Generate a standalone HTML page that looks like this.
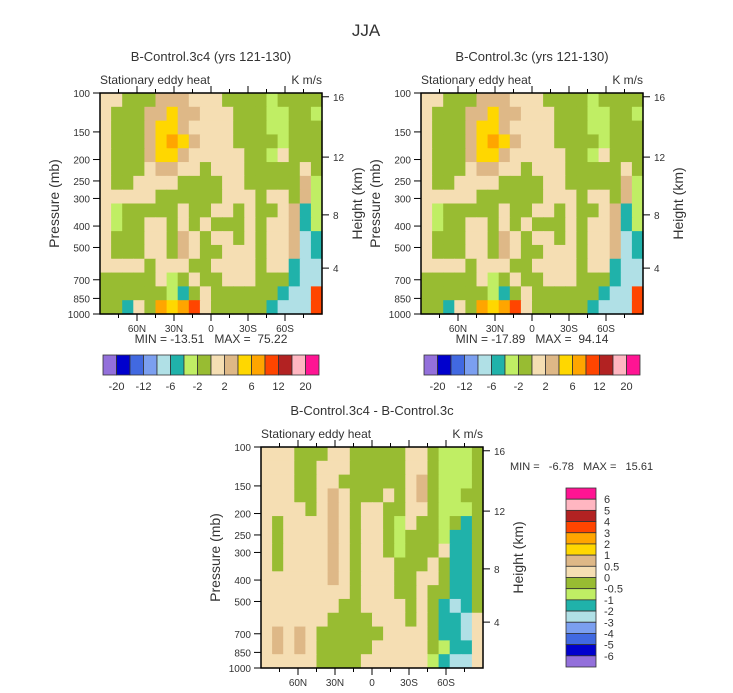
<!DOCTYPE html>
<html><head><meta charset="utf-8"><style>
body{margin:0;background:#fff}
svg{display:block;font-family:"Liberation Sans",sans-serif}
text{white-space:pre}
</style></head><body>
<svg id="svg" width="733" height="693" viewBox="0 0 733 693">
<text x="366" y="36" text-anchor="middle" font-size="17" fill="#333">JJA</text>
</svg>
<script>
const lats=["60N","30N","0","30S","60S"];
const latVals=[60,30,0,-30,-60];
const presTicks=[100,150,200,250,300,400,500,700,850,1000];
const heightTicks=["16","12","8","4"];
const heightPres=[104,195,356,620];
const colorMap={p:"#9370db",n:"#0000cd",u:"#4169e1",k:"#7b9ff0",b:"#b0e0e6",c:"#20b2aa",l:"#c0ee64",g:"#98bc32",w:"#f5deb3",t:"#deb887",y:"#ffd700",o:"#ffa500",r:"#ff4500",f:"#b22222",i:"#ffb6c1",m:"#ff1493"};
const barKeys=["p","n","u","k","b","c","l","g","w","t","y","o","r","f","i","m"];
const topBarLabels=["-20","-12","-6","-2","2","6","12","20"];
const diffBarLabels=["6","5","4","3","2","1","0.5","0","-0.5","-1","-2","-3","-4","-5","-6"];
const field1=[
"wwgggtttwwwgggglgggg",
"wgggttyttwwwgggllggl",
"wgggtyytwwwwgggllggg",
"wgggtyoytwwwgggglggg",
"wgggtyytwwwwwgglwggg",
"wgggwttwwgwwwgggggwg",
"wggwwwwggggwwgggggtl",
"wwwwwggggggwwwgwwgtl",
"wlgggggwggwwgwggwtcl",
"wlggwwgwgwgggwgwwtcl",
"wgggwwgtwgwwgwgwwtbc",
"wgggwwgtwggwwwgwwtbc",
"wwwwgwwwggwwwwgwwcbb",
"gggggwlgwggwwwgggcbb",
"gggggglcgwggggggcbbr",
"ggcwgoyorwgggggcbbbr"];
const field2=field1;
const field3=[
"wwwgggwwgggggwwglllg",
"wwwggwwwgggggwwglllg",
"wwwggwwggggggwtglllg",
"wwwggwtwgggwgwtgllgg",
"wwwwgwtwgwwggwwglllg",
"wgwwwwtwgwwglwgglgcg",
"wgwwwwtwgwwglggglccg",
"wgwwwwtwgwwglgggwccg",
"wgwwwwtwgwwwgggwgccg",
"wwwwwwtwgwwwggwwgccg",
"wwwwwwwwgwwwggwggccg",
"wwwwwwwggwwwwgwgcbcg",
"wwwwwwggggwwwgwgccbw",
"wtwtwggggggwwwwgccbw",
"wtwtwgggggwwwwwglccw",
"wwwwwggggwwwwwwlcbbw"];
const NS="http://www.w3.org/2000/svg";
const svg=document.getElementById('svg');
function mk(tag,attrs,parent){const e=document.createElementNS(NS,tag);for(const k in attrs)e.setAttribute(k,attrs[k]);(parent||svg).appendChild(e);return e;}
function txt(x,y,s,size,anchor,parent){const t=mk('text',{x:x,y:y,'font-size':size,'text-anchor':anchor||'middle',fill:'#333'},parent);t.textContent=s;return t;}
function panel(x0,y0,w,h,field,title,name,stats){
 const g=mk('g',{});
 
 
 const xs=lat=>x0+(90-lat)/180*w;
 const ys=p=>y0+(Math.log10(p)-2)*h;
 const rows=field.length,cols=field[0].length;
 for(let r=0;r<rows;r++)for(let c=0;c<cols;c++){
  const cell=mk('rect',{x:x0+c*w/cols,y:y0+r*h/rows,width:w/cols+0.6,height:h/rows+0.6,fill:colorMap[field[r][c]]},g);
  
  
 }
 const fr=mk('rect',{x:x0,y:y0,width:w,height:h,fill:'none',stroke:'#000','stroke-width':1.5},g);
 
 
 for(let lat=75;lat>=-75;lat-=15){const X=xs(lat);const big=lat%30===0;
  mk('line',{x1:X,y1:y0+h,x2:X,y2:y0+h+(big?7:4),stroke:'#000'},g);
  mk('line',{x1:X,y1:y0,x2:X,y2:y0-(big?7:4),stroke:'#000'},g);}
 latVals.forEach((v,i)=>{const t=txt(xs(v),y0+h+18,lats[i],10,'middle',g);
  
  });
 presTicks.forEach(p=>{mk('line',{x1:x0,y1:ys(p),x2:x0-7,y2:ys(p),stroke:'#000'},g);
  const t=txt(x0-10,ys(p)+4,String(p),10,'end',g);
  
  });
 heightPres.forEach((p,i)=>{mk('line',{x1:x0+w,y1:ys(p),x2:x0+w+7,y2:ys(p),stroke:'#000'},g);
  const t=txt(x0+w+11,ys(p)+4,heightTicks[i],10,'start',g);
  
  });
 const tt=txt(x0+w/2,y0-32,title,13,'middle',g);
 
 
 const st=txt(x0,y0-9,'Stationary eddy heat',12,'start',g);
 
 
 const un=txt(x0+w,y0-9,'K m/s',12,'end',g);
 
 
 const yl=mk('text',{x:0,y:0,'font-size':14,'text-anchor':'middle',fill:'#333',transform:`translate(${x0-41},${y0+h/2}) rotate(-90)`},g);yl.textContent='Pressure (mb)';
 
 
 const hl=mk('text',{x:0,y:0,'font-size':14,'text-anchor':'middle',fill:'#333',transform:`translate(${x0+w+40},${y0+h/2}) rotate(-90)`},g);hl.textContent='Height (km)';
 
 
 if(stats){const s=txt(x0+w/2,y0+h+29,stats,12,'middle',g);
  
  }
}
function hbar(x0,y0,w,h,name){
 const g=mk('g',{});
 
 
 const bw=w/barKeys.length;
 barKeys.forEach((k,i)=>{const r=mk('rect',{x:x0+i*bw,y:y0,width:bw,height:h,fill:colorMap[k],stroke:'#333','stroke-width':0.8},g);
  
  });
 topBarLabels.forEach((s,i)=>{const t=txt(x0+(2*i+1)*bw,y0+h+15,s,11,'middle',g);
  
  });
}
panel(100,93,222,221,field1,'B-Control.3c4 (yrs 121-130)','panel-3c4','MIN = -13.51   MAX =  75.22');
panel(421,93,222,221,field2,'B-Control.3c (yrs 121-130)','panel-3c','MIN = -17.89   MAX =  94.14');
panel(261,447,222,221,field3,'B-Control.3c4 - B-Control.3c','panel-difference',null);
hbar(103,355,216,20,'colorbar-left');
hbar(424,355,216,20,'colorbar-right');
const ms=txt(510,470,'MIN =   -6.78   MAX =   15.61',11,'start');


const vb=mk('g',{});


const bh=179/16;
barKeys.slice().reverse().forEach((k,i)=>{const r=mk('rect',{x:566,y:488+i*bh,width:30,height:bh,fill:colorMap[k],stroke:'#333','stroke-width':0.8},vb);
 
 });
diffBarLabels.forEach((s,i)=>{const t=txt(604,488+(i+1)*bh+4,s,11,'start',vb);
 
 });
</script>
</body></html>
